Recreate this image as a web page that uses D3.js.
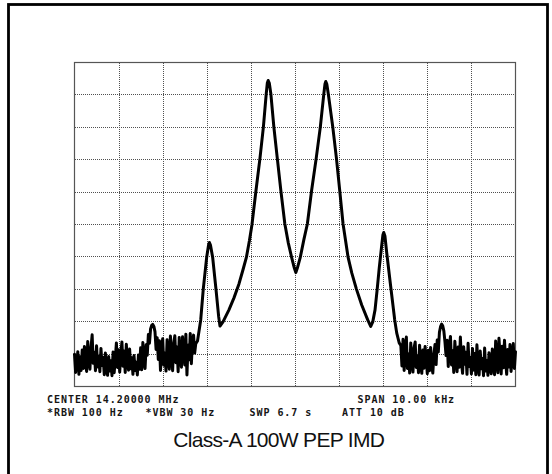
<!DOCTYPE html>
<html>
<head>
<meta charset="utf-8">
<script src="https://cdn.jsdelivr.net/npm/d3@7"></script>
<style>
  body { margin: 0; background: #fff; }
  svg { display: block; }
  .grid line { stroke: #505050; stroke-width: 1; stroke-dasharray: 1,1; shape-rendering: crispEdges; }
  .grid .domain { display: none; }
  .info { font-family: "DejaVu Sans Mono", monospace; font-size: 10px; font-weight: bold; letter-spacing: 0.95px; fill: #151515; }
</style>
</head>
<body>
<script>
// spectrum analyzer settings (kHz offset from 14.2 MHz, dB below reference)
var SPAN_KHZ = [-5, 5];
var REF_DB = [-100, 0];
var X_DIVS = [-4, -3, -2, -1, 0, 1, 2, 3, 4];
var Y_DIVS = [-90, -80, -70, -60, -50, -40, -30, -20, -10];

// noise floor left of the signal, one reading per 25 Hz bin from -5.000 kHz
var NOISE_LEFT_START = -5.0;
var NOISE_STEP = 0.025;
var noiseLeft = [
  -90.2, -95.8, -93.1, -89.4, -96.4, -91.0, -95.2, -88.9, -94.6, -87.8,
  -92.9, -95.5, -86.3, -91.7, -94.8, -88.1, -84.2, -93.0, -89.6, -95.3,
  -87.6, -94.1, -90.8, -95.6, -88.4, -93.7, -91.2, -96.5, -89.8, -94.9,
  -96.7, -90.9, -95.4, -92.2, -96.8, -89.5, -95.9, -91.6, -86.7, -94.3,
  -88.8, -95.7, -90.3, -86.4, -93.9, -89.2, -95.8, -87.1, -92.5, -95.1,
  -88.6, -94.7, -91.3, -96.4, -90.6, -95.2, -92.7, -96.6, -90.4, -94.8,
  -88.2, -95.0, -86.6, -92.4, -94.6, -87.3, -90.5, -84.1, -86.8, -82.4,
  -81.3, -81.0, -81.6, -83.2, -88.7, -85.1, -91.8, -86.0, -95.2, -88.5,
  -85.4, -93.6, -89.9, -95.4, -85.7, -91.0, -94.8, -84.6, -90.2, -95.3,
  -86.9, -84.5, -92.8, -88.0, -95.6, -85.0, -90.7, -94.2, -84.8, -89.6,
  -93.5, -84.0, -96.6, -87.4, -91.9, -83.8, -93.1, -86.2, -84.3, -89.8,
  -86.9
];

// two tone signal with 3rd order products
var sigFreq = [
  -2.211, -2.138, -2.080, -2.003, -1.960, -1.941, -1.917, -1.867, -1.792, -1.731,
  -1.701, -1.633, -1.498, -1.384, -1.271, -1.181, -1.101, -1.034, -0.977, -0.886,
  -0.796, -0.717, -0.653, -0.628, -0.608, -0.583, -0.547, -0.479, -0.400, -0.320,
  -0.230, -0.151, -0.078, -0.015, 0.019, 0.053, 0.121, 0.200, 0.280, 0.375,
  0.479, 0.574, 0.653, 0.680, 0.698, 0.721, 0.755, 0.857, 0.941, 1.015,
  1.090, 1.203, 1.287, 1.393, 1.513, 1.649, 1.717, 1.763, 1.815, 1.864,
  1.910, 1.960, 1.993, 2.012, 2.039, 2.080, 2.170, 2.261, 2.306, 2.363
];
var sigLevel = [
  -86.1, -79.6, -70.1, -60.3, -56.5, -55.7, -56.5, -60.3, -70.1, -78.6,
  -81.5, -80.2, -76.5, -72.8, -68.5, -64.2, -60.2, -55.2, -50.3, -39.8,
  -29.9, -20.1, -9.9, -6.5, -5.7, -6.5, -9.9, -20.1, -29.9, -39.8,
  -50.0, -55.9, -60.2, -63.6, -65.0, -63.6, -60.2, -54.9, -50.0, -39.8,
  -29.9, -20.1, -9.9, -6.8, -6.0, -6.8, -9.9, -20.1, -29.9, -39.8,
  -50.0, -60.2, -65.1, -70.1, -75.0, -79.6, -81.6, -80.2, -76.5, -70.1,
  -63.6, -57.4, -53.4, -52.6, -53.7, -58.9, -69.3, -79.6, -83.6, -86.7
];

// noise floor right of the signal, from +2.400 kHz
var NOISE_RIGHT_START = 2.40;
var noiseRight = [
  -87.5, -93.8, -85.6, -95.2, -89.3, -84.9, -94.6, -90.1, -96.0, -86.7,
  -92.4, -95.7, -88.2, -86.4, -94.3, -90.8, -95.9, -87.4, -93.2, -96.1,
  -88.9, -94.5, -87.8, -91.6, -96.2, -89.0, -95.3, -88.1, -93.7, -96.0,
  -90.2, -87.2, -93.4, -85.8, -89.5, -83.4, -81.7, -80.9, -81.4, -83.0,
  -86.3, -90.6, -85.9, -94.0, -87.6, -84.7, -93.5, -89.1, -95.8, -86.2,
  -91.4, -95.6, -88.0, -94.2, -84.9, -92.6, -96.1, -87.9, -93.3, -89.6,
  -96.4, -86.8, -94.0, -91.2, -96.3, -88.4, -95.1, -90.0, -96.5, -87.3,
  -93.8, -96.6, -89.2, -94.7, -91.5, -96.8, -88.3, -95.4, -92.1, -96.7,
  -89.7, -94.5, -96.2, -88.6, -93.0, -96.5, -86.1, -92.7, -95.9, -85.3,
  -90.4, -96.3, -87.7, -94.4, -85.9, -92.0, -96.4, -88.7, -94.1, -87.2,
  -95.5, -90.3, -86.9, -94.6, -89.4
];

var infoLine1 = ["CENTER 14.20000 MHz", "SPAN 10.00 kHz"];
var infoLine2 = ["*RBW 100 Hz", "*VBW 30 Hz", "SWP 6.7 s", "ATT 10 dB"];
var TITLE = "Class-A 100W PEP IMD";

var W = 552, H = 474;
var PLOT = {left: 74.5, right: 515.5, top: 62, bottom: 386};

// build the trace
var TRACE = [];
noiseLeft.forEach(function(v, i){ TRACE.push([NOISE_LEFT_START + i * NOISE_STEP, v]); });
sigFreq.forEach(function(f, i){ TRACE.push([f, sigLevel[i]]); });
noiseRight.forEach(function(v, i){ TRACE.push([NOISE_RIGHT_START + i * NOISE_STEP, v]); });

SVG = d3.select("body").append("svg").attr("width", W).attr("height", H);
SVG.append("rect").attr("width", W).attr("height", H).attr("fill", "#fff");

// outer frame, runs off the bottom
SVG.append("rect")
   .attr("x", 8.5).attr("y", 4.5)
   .attr("width", 539).attr("height", 490)
   .attr("fill", "none").attr("stroke", "#000").attr("stroke-width", 2.8);

var X = d3.scaleLinear().domain(SPAN_KHZ).range([PLOT.left, PLOT.right]);
var Y = d3.scaleLinear().domain(REF_DB).range([PLOT.bottom, PLOT.top]);

// graticule
SVG.append("g").attr("class", "grid")
   .attr("transform", "translate(0," + PLOT.bottom + ")")
   .call(d3.axisBottom(X).tickValues(X_DIVS).tickSize(-(PLOT.bottom - PLOT.top)).tickFormat(""));
SVG.append("g").attr("class", "grid")
   .attr("transform", "translate(" + PLOT.left + ",0)")
   .call(d3.axisLeft(Y).tickValues(Y_DIVS).tickSize(-(PLOT.right - PLOT.left)).tickFormat(""));

SVG.append("rect")
   .attr("x", PLOT.left).attr("y", PLOT.top + 0.5)
   .attr("width", PLOT.right - PLOT.left).attr("height", PLOT.bottom - PLOT.top)
   .attr("fill", "none").attr("stroke", "#555").attr("stroke-width", 1.2);

// trace
var line = d3.line().x(function(d){ return X(d[0]); }).y(function(d){ return Y(d[1]); });
SVG.append("path")
   .datum(TRACE)
   .attr("d", line)
   .attr("fill", "none")
   .attr("stroke", "#000")
   .attr("stroke-width", 3)
   .attr("stroke-linejoin", "round")
   .attr("stroke-linecap", "round");

// analyzer readout
var INFO = SVG.append("g").attr("class", "info");
INFO.append("text").attr("x", 47).attr("y", 403).text(infoLine1[0]);
INFO.append("text").attr("x", 357.5).attr("y", 403).text(infoLine1[1]);
INFO.append("text").attr("x", 47).attr("y", 416).text(infoLine2[0]);
INFO.append("text").attr("x", 145.5).attr("y", 416).text(infoLine2[1]);
INFO.append("text").attr("x", 249.5).attr("y", 416).text(infoLine2[2]);
INFO.append("text").attr("x", 342).attr("y", 416).text(infoLine2[3]);

SVG.append("text")
   .attr("x", 173.3).attr("y", 446.5)
   .attr("font-family", "Liberation Sans, Arial, sans-serif")
   .attr("font-size", 21)
   .attr("letter-spacing", "-0.7px")
   .attr("fill", "#111")
   .text(TITLE);
</script>
</body>
</html>
